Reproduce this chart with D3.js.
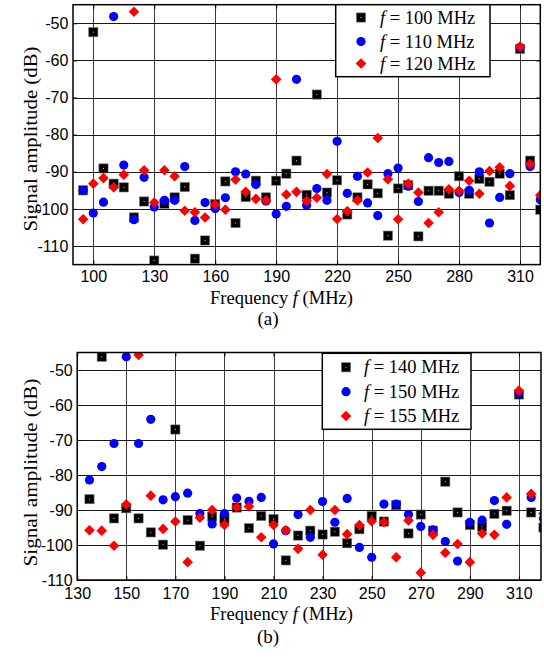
<!DOCTYPE html>
<html><head><meta charset="utf-8">
<script src="https://cdn.jsdelivr.net/npm/d3@7"></script>
<style>body{margin:0;background:#fff}</style>
</head><body><svg id="c" width="544" height="660" xmlns="http://www.w3.org/2000/svg"></svg>
<script>
// ---------- data: panel (a) ----------
const freqA = [95,100,105,110,115,120,125,130,135,140,145,150,155,160,165,170,175,180,185,190,195,200,205,210,215,220,225,230,235,240,245,250,255,260,265,270,275,280,285,290,295,300,305,310,315,320];
const a100 = [-95.0,-52.4,-89.1,-93.2,-94.2,-102.3,-98.0,-113.9,-98.6,-96.9,-94.1,-113.4,-108.5,-98.7,-92.6,-103.8,-96.8,-92.4,-96.9,-92.4,-90.5,-87.0,-96.2,-69.2,-95.6,-92.3,-101.5,-96.9,-93.4,-95.8,-107.2,-94.5,-93.6,-107.4,-95.1,-95.1,-95.9,-91.2,-95.9,-91.9,-92.7,-90.5,-96.3,-56.9,-87.0,-100.2];
const a110 = [-95.0,-101.1,-98.2,-48.2,-88.2,-102.9,-91.5,-99.5,-97.7,-97.7,-88.6,-103.1,-98.3,-99.9,-97.0,-90.0,-90.6,-93.4,-97.9,-101.4,-99.3,-65.1,-99.0,-94.5,-97.7,-81.8,-95.8,-91.2,-98.4,-101.8,-90.5,-89.0,-93.9,-98.0,-86.2,-87.5,-87.2,-95.6,-95.0,-90.0,-103.8,-96.9,-90.5,-56.5,-88.6,-97.5];
const a120 = [-102.8,-93.2,-91.7,-94.2,-90.8,-46.9,-89.6,-98.3,-89.6,-91.2,-100.5,-100.9,-102.3,-98.8,-100.2,-92.1,-95.4,-97.3,-97.7,-65.1,-96.1,-95.4,-97.9,-97.0,-90.6,-102.7,-100.6,-97.7,-90.2,-80.9,-92.0,-102.8,-93.2,-95.6,-103.8,-100.9,-94.7,-95.1,-92.4,-95.9,-89.8,-88.8,-93.8,-56.3,-87.9,-96.3];
const xTicksA = [100,130,160,190,220,250,280,310];
const yTicksA = [-50,-60,-70,-80,-90,-100,-110];
const legendA = ["100","110","120"];

// ---------- data: panel (b) ----------
const freqB = [135,140,145,150,155,160,165,170,175,180,185,190,195,200,205,210,215,220,225,230,235,240,245,250,255,260,265,270,275,280,285,290,295,300,305,310,315,320];
const b140 = [-86.9,-46.2,-92.4,-89.5,-92.4,-96.4,-99.9,-67.0,-92.9,-100.2,-91.9,-92.6,-89.3,-95.2,-91.7,-92.6,-104.4,-97.3,-95.9,-97.0,-96.2,-99.5,-95.5,-91.7,-93.3,-88.6,-96.7,-91.3,-95.9,-81.9,-90.7,-94.3,-94.8,-91.1,-90.2,-57.0,-90.7,-95.0];
const b150 = [-81.4,-77.6,-71.0,-46.2,-71.0,-64.1,-87.1,-86.2,-85.2,-91.0,-94.0,-91.0,-86.6,-87.5,-86.4,-99.7,-95.9,-91.3,-97.8,-87.6,-93.5,-86.7,-100.7,-103.5,-88.3,-88.3,-91.3,-94.7,-95.7,-99.0,-104.6,-93.5,-92.9,-87.3,-94.1,-56.5,-86.4,-92.4];
const b155 = [-95.8,-95.9,-100.2,-88.4,-45.7,-85.9,-95.4,-93.3,-104.9,-92.2,-90.0,-94.3,-89.2,-89.0,-97.8,-94.3,-95.8,-101.1,-90.0,-102.8,-90.0,-96.9,-94.3,-93.2,-93.5,-103.5,-93.0,-107.9,-97.1,-102.2,-99.7,-104.9,-96.7,-97.1,-86.4,-55.9,-85.4,-91.0];
const xTicksB = [130,150,170,190,210,230,250,270,290,310];
const yTicksB = [-50,-60,-70,-80,-90,-100,-110];
const legendB = ["140","150","155"];

const seriesStyle = ["square","circle","diamond"];
const serif = "'Liberation Serif','Times New Roman',serif";
const sans = "'Liberation Sans',Arial,sans-serif";

const svg = d3.select("#c");

function drawMarker(sel, kind) {
  if (kind === "square") {
    sel.append("rect").attr("x",-4.6).attr("y",-4.6).attr("width",9.2).attr("height",9.2)
      .attr("fill","#000").attr("stroke","#777").attr("stroke-width",0.6);
    sel.append("rect").attr("x",-0.5).attr("y",-0.5).attr("width",1).attr("height",1).attr("fill","#ccc");
  } else if (kind === "circle") {
    sel.append("circle").attr("r",4.6).attr("fill","#0000ff");
  } else {
    sel.append("path").attr("d","M0,-5.3L5.3,0L0,5.3L-5.3,0Z").attr("fill","#ff0000");
  }
}

function panel(o) {
  const x = d3.scaleLinear().domain(o.xDomain).range([o.left, o.right]);
  const y = d3.scaleLinear().domain(o.yDomain).range([o.bottom, o.top]);
  const g = svg.append("g");
  const clipId = "clip" + o.id;
  svg.append("clipPath").attr("id", clipId).append("rect")
    .attr("x", o.left).attr("y", o.top).attr("width", o.right - o.left).attr("height", o.bottom - o.top);

  // grid
  g.append("g").selectAll("line").data(o.xTicks).join("line")
    .attr("x1", d => Math.round(x(d)) + 0.5).attr("x2", d => Math.round(x(d)) + 0.5)
    .attr("y1", o.top).attr("y2", o.bottom).attr("stroke", "#3a3a3a").attr("stroke-width", 1);
  g.append("g").selectAll("line").data(o.yTicks).join("line")
    .attr("y1", d => Math.round(y(d)) + 0.5).attr("y2", d => Math.round(y(d)) + 0.5)
    .attr("x1", o.left).attr("x2", o.right).attr("stroke", "#1a1a1a").attr("stroke-width", 1);

  // axes
  const ax = g.append("g").attr("transform", `translate(0,${o.bottom})`)
    .call(d3.axisBottom(x).tickValues(o.xTicks).tickSizeInner(-4).tickSizeOuter(0).tickPadding(o.xPad));
  const ay = g.append("g").attr("transform", `translate(${o.left},0)`)
    .call(d3.axisLeft(y).tickValues(o.yTicks).tickSizeInner(-4).tickSizeOuter(0).tickPadding(o.yPad).tickFormat(d3.format("d")));
  const at = g.append("g").attr("transform", `translate(0,${o.top})`)
    .call(d3.axisTop(x).tickValues(o.xTicks).tickSizeInner(-4).tickSizeOuter(0).tickFormat(""));
  const ar = g.append("g").attr("transform", `translate(${o.right},0)`)
    .call(d3.axisRight(y).tickValues(o.yTicks).tickSizeInner(-4).tickSizeOuter(0).tickFormat(""));
  [ax, ay, at, ar].forEach(a => {
    a.select(".domain").remove();
    a.selectAll("text").attr("font-family", sans).attr("font-size", 16).attr("fill", "#000");
    a.selectAll("line").attr("stroke", "#000");
  });
  ay.selectAll("text").text(d => String(d).replace("\u2212", "-"));

  // data points
  const pts = g.append("g").attr("clip-path", `url(#${clipId})`);
  o.series.forEach((vals, si) => {
    const kind = seriesStyle[si];
    pts.append("g").selectAll("g").data(o.freq.map((f, i) => [f, vals[i]])).join("g")
      .attr("transform", d => `translate(${x(d[0])},${y(d[1])})`)
      .each(function () { drawMarker(d3.select(this), kind); });
  });

  // box
  g.append("rect").attr("x", o.left).attr("y", o.top).attr("width", o.right - o.left)
    .attr("height", o.bottom - o.top).attr("fill", "none").attr("stroke", "#000").attr("stroke-width", 1.5);

  // legend
  const lg = g.append("g");
  lg.append("rect").attr("x", o.leg.x).attr("y", o.leg.y).attr("width", o.leg.w).attr("height", o.leg.h)
    .attr("fill", "#fff").attr("stroke", "#000").attr("stroke-width", 1.5);
  o.legLabels.forEach((lab, i) => {
    const cy = o.leg.rows[i];
    const m = lg.append("g").attr("transform", `translate(${o.leg.mx},${cy})`);
    drawMarker(m, seriesStyle[i]);
    const t = lg.append("text").attr("x", o.leg.tx).attr("y", cy + 6).attr("font-family", serif).attr("font-size", 18.5);
    t.append("tspan").attr("font-style", "italic").text("f");
    t.append("tspan").text(" = " + lab + " MHz");
  });

  // axis labels
  svg.append("text").attr("transform", `translate(${o.ylab.x},${o.ylab.y}) rotate(-90)`)
    .attr("text-anchor", "middle").attr("dominant-baseline", "central")
    .attr("font-family", serif).attr("font-size", 19)
    .attr("textLength", o.ylab.len).attr("lengthAdjust", "spacingAndGlyphs")
    .text("Signal amplitude (dB)");
  const xl = svg.append("text").attr("x", o.xlab.x).attr("y", o.xlab.y).attr("text-anchor", "middle")
    .attr("font-family", serif).attr("font-size", 18.5);
  xl.append("tspan").text("Frequency ");
  xl.append("tspan").attr("font-style", "italic").text("f");
  xl.append("tspan").text(" (MHz)");
  svg.append("text").attr("x", o.cap.x).attr("y", o.cap.y).attr("text-anchor", "middle")
    .attr("font-family", serif).attr("font-size", 19).text(o.cap.t);
}

panel({
  id: "a", left: 73, right: 540.3, top: 4.7, bottom: 264.6,
  xDomain: [90, 320], yDomain: [-115, -45], xTicks: xTicksA, yTicks: yTicksA,
  xPad: 6, yPad: 4.7, freq: freqA, series: [a100, a110, a120], legLabels: legendA,
  leg: { x: 335.7, y: 4.7, w: 154.3, h: 72, mx: 361, tx: 380, rows: [17.5, 41.5, 63.5] },
  ylab: { x: 30, y: 139, len: 185 },
  xlab: { x: 281.5, y: 304 },
  cap: { x: 268, y: 325, t: "(a)" }
});

panel({
  id: "b", left: 77.2, right: 541, top: 352.5, bottom: 580,
  xDomain: [130, 319], yDomain: [-110, -45], xTicks: xTicksB, yTicks: yTicksB,
  xPad: 7.6, yPad: 4.5, freq: freqB, series: [b140, b150, b155], legLabels: legendB,
  leg: { x: 322.3, y: 353.3, w: 148.7, h: 76, mx: 346, tx: 364, rows: [367.3, 391.7, 416] },
  ylab: { x: 30, y: 472.5, len: 188 },
  xlab: { x: 281.5, y: 620 },
  cap: { x: 268, y: 643, t: "(b)" }
});
</script>
</body></html>
